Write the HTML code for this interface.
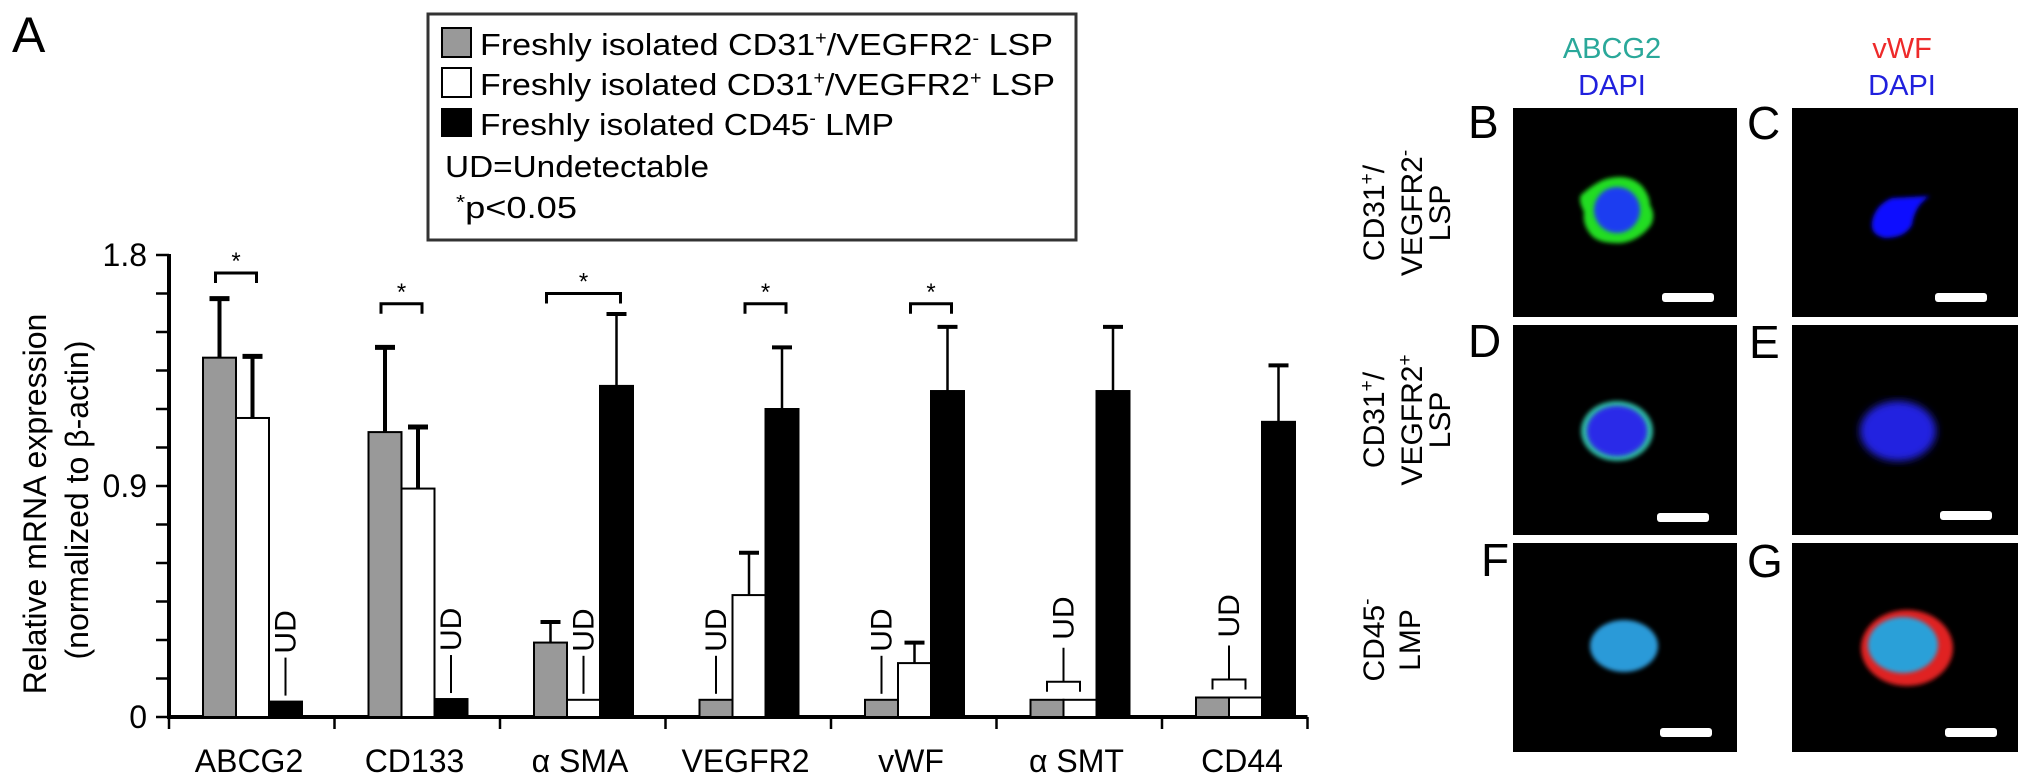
<!DOCTYPE html>
<html><head><meta charset="utf-8"><style>
html,body{margin:0;padding:0;background:#fff;}
svg{display:block;font-family:"Liberation Sans",Arial,sans-serif;}
</style></head><body>
<svg id="fig" width="2032" height="784" viewBox="0 0 2032 784" xmlns="http://www.w3.org/2000/svg">
<defs>
<filter id="blur2"><feGaussianBlur stdDeviation="2"/></filter>
<filter id="blur4"><feGaussianBlur stdDeviation="4"/></filter>
</defs>
<text x="12" y="52" font-size="50">A</text>

<g>
<rect x="428" y="14" width="648" height="226" fill="#fff" stroke="#333" stroke-width="3"/>
<rect x="442" y="28" width="29" height="29" fill="#999" stroke="#000" stroke-width="2"/>
<text x="480" y="55" font-size="31" textLength="573" lengthAdjust="spacingAndGlyphs">Freshly isolated CD31<tspan dy="-11" font-size="18">+</tspan><tspan dy="11">/VEGFR2</tspan><tspan dy="-11" font-size="18">-</tspan><tspan dy="11"> LSP</tspan></text>
<rect x="442" y="68" width="29" height="29" fill="#fff" stroke="#000" stroke-width="2"/>
<text x="480" y="95" font-size="31" textLength="575" lengthAdjust="spacingAndGlyphs">Freshly isolated CD31<tspan dy="-11" font-size="18">+</tspan><tspan dy="11">/VEGFR2</tspan><tspan dy="-11" font-size="18">+</tspan><tspan dy="11"> LSP</tspan></text>
<rect x="442" y="109" width="29" height="27" fill="#000" stroke="#000" stroke-width="2"/>
<text x="480" y="135" font-size="31" textLength="414" lengthAdjust="spacingAndGlyphs">Freshly isolated CD45<tspan dy="-11" font-size="18">-</tspan><tspan dy="11"> LMP</tspan></text>
<text x="445" y="177" font-size="31" textLength="264" lengthAdjust="spacingAndGlyphs">UD=Undetectable</text>
<text x="456" y="218" font-size="31" textLength="121" lengthAdjust="spacingAndGlyphs"><tspan font-size="20" dy="-9">*</tspan><tspan dy="9">p&lt;0.05</tspan></text>
</g>

<g id="chart"></g>

<g>
<text x="1612" y="58" font-size="29" fill="#2aa89a" text-anchor="middle">ABCG2</text>
<text x="1612" y="95" font-size="29" fill="#2020dd" text-anchor="middle">DAPI</text>
<text x="1902" y="58" font-size="29" fill="#ee2a2a" text-anchor="middle">vWF</text>
<text x="1902" y="95" font-size="29" fill="#2020dd" text-anchor="middle">DAPI</text>

<g font-size="30" text-anchor="middle">
<text transform="translate(1384,213) rotate(-90)">CD31<tspan dy="-11" font-size="19">+</tspan><tspan dy="11">/</tspan></text>
<text transform="translate(1422,213) rotate(-90)">VEGFR2<tspan dy="-11" font-size="19">-</tspan></text>
<text transform="translate(1450,213) rotate(-90)">LSP</text>
<text transform="translate(1384,420) rotate(-90)">CD31<tspan dy="-11" font-size="19">+</tspan><tspan dy="11">/</tspan></text>
<text transform="translate(1422,420) rotate(-90)">VEGFR2<tspan dy="-11" font-size="19">+</tspan></text>
<text transform="translate(1450,420) rotate(-90)">LSP</text>
<text transform="translate(1384,640) rotate(-90)">CD45<tspan dy="-11" font-size="19">-</tspan></text>
<text transform="translate(1420,640) rotate(-90)">LMP</text>
</g>
<g font-size="46">
<text x="1468" y="138">B</text>
<text x="1747" y="139">C</text>
<text x="1468" y="357">D</text>
<text x="1749" y="358">E</text>
<text x="1481" y="576">F</text>
<text x="1747" y="577">G</text>
</g>

<g>
<rect x="1513" y="108" width="224" height="209" fill="#000"/>
<path d="M1581,195 Q1598,180 1610,178 Q1630,174 1642,186 Q1650,196 1650,205 Q1656,215 1651,225 Q1640,240 1622,243 Q1600,244 1592,236 Q1582,225 1584,212 Q1578,200 1581,195 Z" fill="#22dd22" filter="url(#blur2)"/>
<ellipse cx="1617" cy="210" rx="23" ry="23" fill="#1a3cf0" filter="url(#blur2)"/>
<rect x="1662" y="293" width="52" height="9" rx="3" fill="#fff"/>
</g>
<g>
<rect x="1792" y="108" width="226" height="209" fill="#000"/>
<path d="M1872,222 Q1875,205 1892,198 L1930,196 Q1915,205 1912,225 Q1905,238 1885,238 Q1870,235 1872,222 Z" fill="#1010ff" filter="url(#blur2)"/>
<rect x="1935" y="293" width="52" height="9" rx="3" fill="#fff"/>
</g>
<g>
<rect x="1513" y="325" width="224" height="210" fill="#000"/>
<ellipse cx="1617" cy="431" rx="36" ry="30" fill="#2fb8a0" filter="url(#blur2)"/>
<ellipse cx="1617" cy="431" rx="30" ry="25" fill="#2a2ae8" filter="url(#blur2)"/>
<rect x="1657" y="513" width="52" height="9" rx="3" fill="#fff"/>
</g>
<g>
<rect x="1792" y="325" width="226" height="210" fill="#000"/>
<ellipse cx="1898" cy="431" rx="38" ry="30" fill="#2020e0" filter="url(#blur4)"/>
<rect x="1940" y="511" width="52" height="9" rx="3" fill="#fff"/>
</g>
<g>
<rect x="1513" y="543" width="224" height="209" fill="#000"/>
<ellipse cx="1624" cy="646" rx="34" ry="26" fill="#2a9ad8" filter="url(#blur2)"/>
<rect x="1660" y="728" width="52" height="9" rx="3" fill="#fff"/>
</g>
<g>
<rect x="1792" y="543" width="226" height="209" fill="#000"/>
<ellipse cx="1907" cy="648" rx="46" ry="38" fill="#e02020" filter="url(#blur2)"/>
<ellipse cx="1903" cy="645" rx="35" ry="28" fill="#2aa0d8" filter="url(#blur2)"/>
<rect x="1945" y="728" width="52" height="9" rx="3" fill="#fff"/>
</g>
</g>
</svg>
<script>
const categories = ["ABCG2", "CD133", "\u03B1 SMA", "VEGFR2", "vWF", "\u03B1 SMT", "CD44"];
const grayValues  = [1.40, 1.11, 0.29, 0.067, 0.067, 0.067, 0.076];
const grayErrors  = [0.23, 0.33, 0.08, 0, 0, 0, 0];
const whiteValues = [1.165, 0.89, 0.067, 0.475, 0.21, 0.067, 0.076];
const whiteErrors = [0.24, 0.24, 0, 0.165, 0.08, 0, 0];
const blackValues = [0.06, 0.07, 1.29, 1.20, 1.27, 1.27, 1.15];
const blackErrors = [0, 0, 0.28, 0.24, 0.25, 0.25, 0.22];
const udSingle = [[0, 2], [1, 2], [2, 1], [3, 0], [4, 0]];
const udPair = [5, 6];
const sigCategory = [0, 1, 2, 3, 4];
const sigFrom = [0, 0, 0, 1, 1];
const sigTo = [1, 1, 2, 2, 2];
const sigLevel = [1.73, 1.61, 1.65, 1.61, 1.61];
const yTickLabels = ["0", "0.9", "1.8"];
const yTickValues = [0, 0.9, 1.8];
const yMinorStep = 0.15;
const yMax = 1.8;

const NS = "http://www.w3.org/2000/svg";
const chart = document.getElementById("chart");
const X0 = 169, GROUP = 165.5, BW = 33, Y0 = 717, YTOP = 255;
function y(v){ return Y0 - v / yMax * (Y0 - YTOP); }
function groupX(i){ return X0 + i * GROUP; }
function barX(i, s){ return groupX(i) + 34 + s * BW; }
function barC(i, s){ return barX(i, s) + BW / 2; }
function mk(tag, attrs, parent){
  const e = document.createElementNS(NS, tag);
  for (const k in attrs) e.setAttribute(k, attrs[k]);
  (parent || chart).appendChild(e);
  return e;
}

let e = mk("line", {x1: X0, y1: YTOP - 1, x2: X0, y2: Y0 + 2, stroke: "#000", "stroke-width": 4});


e = mk("line", {x1: X0 - 2, y1: Y0, x2: X0 + 7 * GROUP - 20, y2: Y0, stroke: "#000", "stroke-width": 4});


for (let v = 0; v <= yMax + 1e-9; v += yMinorStep) {
  e = mk("line", {x1: X0 - 13, y1: y(v), x2: X0, y2: y(v), stroke: "#000", "stroke-width": 2.5});
  
  
}
for (let i = 0; i < yTickValues.length; i++) {
  e = mk("text", {x: X0 - 22, y: y(yTickValues[i]) + 11, "font-size": 32, "text-anchor": "end"});
  e.textContent = yTickLabels[i];
  
  
}
e = mk("text", {transform: "translate(46,504) rotate(-90)", "font-size": 32, "text-anchor": "middle"});
e.textContent = "Relative mRNA expression";


e = mk("text", {transform: "translate(88,500) rotate(-90)", "font-size": 32, "text-anchor": "middle"});
e.textContent = "(normalized to \u03B2-actin)";



for (let i = 0; i < categories.length; i++) {
  e = mk("line", {x1: groupX(i), y1: Y0, x2: groupX(i), y2: Y0 + 12, stroke: "#000", "stroke-width": 2.5});
  
  
  e = mk("text", {x: groupX(i) + 80, y: 772, "font-size": 32, "text-anchor": "middle"});
  e.textContent = categories[i];
  
  
}
e = mk("line", {x1: X0 + 7 * GROUP - 20, y1: Y0, x2: X0 + 7 * GROUP - 20, y2: Y0 + 12, stroke: "#000", "stroke-width": 2.5});



const series = [
  {vals: grayValues, errs: grayErrors, fill: "#999", name: "gray"},
  {vals: whiteValues, errs: whiteErrors, fill: "#fff", name: "white"},
  {vals: blackValues, errs: blackErrors, fill: "#000", name: "black"}
];
for (let s = 0; s < series.length; s++) {
  for (let i = 0; i < categories.length; i++) {
    const v = series[s].vals[i], er = series[s].errs[i];
    if (er > 0) {
      const cx = barC(i, s), top = y(v + er);
      e = mk("line", {x1: cx, y1: y(v), x2: cx, y2: top, stroke: "#000", "stroke-width": i < 2 ? 4 : 2.5});
      
      
      e = mk("line", {x1: cx - 10, y1: top, x2: cx + 10, y2: top, stroke: "#000", "stroke-width": i < 2 ? 5 : 4});
      
      
    }
    e = mk("rect", {x: barX(i, s), y: y(v), width: BW, height: Y0 - y(v), fill: series[s].fill, stroke: "#000", "stroke-width": 2});
    
    
  }
}

function udText(cx, yBottom){
  const t = mk("text", {transform: "translate(" + (cx + 10) + "," + yBottom + ") rotate(-90)", "font-size": 30});
  t.textContent = "UD";
  return t;
}
for (let k = 0; k < udSingle.length; k++) {
  const i = udSingle[k][0], s = udSingle[k][1];
  const cx = barC(i, s), top = y(series[s].vals[i]) - 6;
  e = mk("line", {x1: cx, y1: top, x2: cx, y2: top - 38, stroke: "#000", "stroke-width": 2});
  
  
  e = udText(cx, top - 42);
  
  
}
for (let k = 0; k < udPair.length; k++) {
  const i = udPair[k];
  const x1 = barC(i, 0), x2 = barC(i, 1), cx = (x1 + x2) / 2;
  const by = y(Math.max(grayValues[i], whiteValues[i])) - 18;
  e = mk("path", {d: "M" + x1 + "," + (by + 10) + " V" + by + " H" + x2 + " V" + (by + 10) + " M" + cx + "," + by + " V" + (by - 34), fill: "none", stroke: "#000", "stroke-width": 2});
  
  
  e = udText(cx, by - 42);
  
  
}
for (let k = 0; k < sigCategory.length; k++) {
  const i = sigCategory[k];
  const x1 = barC(i, sigFrom[k]) - 4, x2 = barC(i, sigTo[k]) + 4, by = y(sigLevel[k]);
  e = mk("path", {d: "M" + x1 + "," + (by + 10) + " V" + by + " H" + x2 + " V" + (by + 10), fill: "none", stroke: "#000", "stroke-width": 3});
  
  
  e = mk("text", {x: (x1 + x2) / 2, y: by - 4, "font-size": 24, "text-anchor": "middle"});
  e.textContent = "*";
  
  
}
</script>
</body></html>
